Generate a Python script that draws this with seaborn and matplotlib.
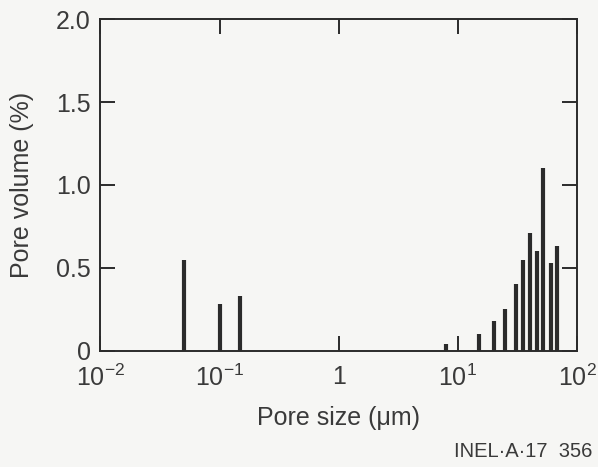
import numpy as np
import pandas as pd
import matplotlib
matplotlib.use("Agg")
import matplotlib.pyplot as plt
import seaborn as sns
import seaborn.objects as so
from matplotlib.ticker import FixedLocator, FixedFormatter

# Data
pore_size = [0.05, 0.10, 0.147, 7.9, 15.1, 19.9, 24.8, 30.5, 35.3, 40.3, 45.8, 51.4, 60.0, 67.4]
pore_volume = [0.55, 0.28, 0.33, 0.04, 0.10, 0.18, 0.25, 0.40, 0.55, 0.71, 0.60, 1.10, 0.53, 0.63]
x_ticks = [0.01, 0.1, 1, 10, 100]
x_tick_labels = [r"$10^{-2}$", r"$10^{-1}$", "1", r"$10^{1}$", r"$10^{2}$"]
y_ticks = [0, 0.5, 1.0, 1.5, 2.0]
y_tick_labels = ["0", "0.5", "1.0", "1.5", "2.0"]

sns.set_style("white")
plt.rcParams["font.family"] = ["Liberation Sans", "DejaVu Sans"]
plt.rcParams["mathtext.fontset"] = "custom"
plt.rcParams["mathtext.rm"] = "Liberation Sans"
plt.rcParams["mathtext.it"] = "Liberation Sans:italic"

bg = "#f6f6f4"
ink = "#2b2b2b"
txt = "#3a3a3a"
df = pd.DataFrame({"size": pore_size, "vol": pore_volume, "zero": 0.0})

fig = plt.figure(figsize=(5.98, 4.67), dpi=100, facecolor=bg)
ax = fig.add_axes([0.168, 0.249, 0.797, 0.71])
ax.set_facecolor(bg)

(
    so.Plot(df, x="size", ymin="zero", ymax="vol")
    .add(so.Range(color=ink, linewidth=3.0))
    .scale(x="log")
    .on(ax)
    .plot()
)
for coll in ax.collections:
    coll.set_capstyle("butt")

ax.set_xscale("log")
ax.set_xlim(0.01, 100)
ax.set_ylim(0, 2.0)
ax.xaxis.set_major_locator(FixedLocator(x_ticks))
ax.xaxis.set_major_formatter(FixedFormatter(x_tick_labels))
ax.xaxis.set_minor_locator(FixedLocator([]))
ax.yaxis.set_major_locator(FixedLocator(y_ticks))
ax.yaxis.set_major_formatter(FixedFormatter(y_tick_labels))
ax.tick_params(axis="both", which="major", direction="in", length=11, width=1.4,
               color=ink, labelcolor=txt, labelsize=18,
               top=True, right=True, bottom=True, left=True)
ax.tick_params(axis="x", pad=10)
ax.tick_params(axis="y", pad=7)
for s in ax.spines.values():
    s.set_visible(True)
    s.set_color(ink)
    s.set_linewidth(1.4)
ax.grid(False)

ax.set_xlabel("Pore size (\u03bcm)", fontsize=18, color=txt, labelpad=11)
ax.set_ylabel("Pore volume (%)", fontsize=18, color=txt, labelpad=16)

fig.text(0.99, 0.034, "INEL\u00b7A\u00b717  356", ha="right", va="center",
         fontsize=14.5, color=txt)

fig.savefig("out.png", dpi=100, facecolor=bg)
